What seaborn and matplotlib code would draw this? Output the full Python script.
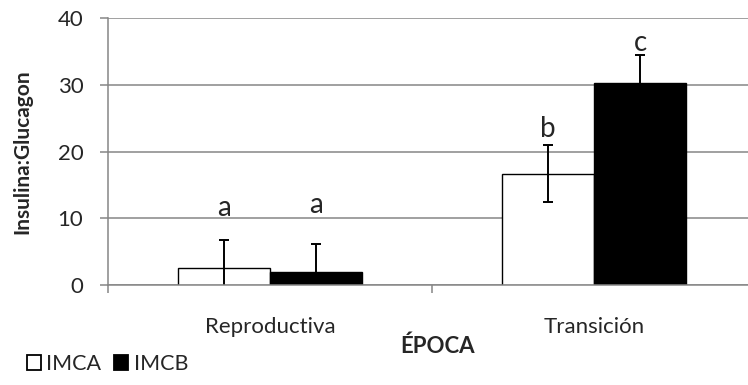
import numpy as np
import pandas as pd
import matplotlib
matplotlib.use('Agg')
import matplotlib.pyplot as plt
import seaborn as sns
from matplotlib.patches import Patch
from matplotlib.ticker import FixedLocator

# Data
epocas = ['Reproductiva', 'Transición']
grupos = ['IMCA', 'IMCB']
imca = [2.6, 16.7]
imcb = [2.0, 30.3]
imca_err = [4.2, 4.2]
imcb_err = [4.2, 4.2]
letras_imca = ['a', 'b']
letras_imcb = ['a', 'c']
letra_y_imca = [11.6, 23.4]
letra_y_imcb = [12.0, 36.3]

df = pd.DataFrame({
    'Epoca': epocas * 2,
    'Grupo': ['IMCA'] * 2 + ['IMCB'] * 2,
    'Valor': imca + imcb,
})

sns.set_style('white')
plt.rcParams['font.family'] = ['Lato', 'DejaVu Sans']

fig = plt.figure(figsize=(7.48, 3.85), dpi=100)
ax = fig.add_axes([108/748, 1 - 285/385, 648/748, 267/385])

grid_c = '#868686'
ax.set_axisbelow(True)
ax.yaxis.grid(True, color=grid_c, linewidth=1.1)

sns.barplot(data=df, x='Epoca', y='Valor', hue='Grupo', order=epocas, hue_order=grupos,
            palette={'IMCA': 'white', 'IMCB': 'black'}, width=0.568, edgecolor='black',
            linewidth=1, errorbar=None, legend=False, ax=ax)

# error bars and letters
w = 0.568 / 2
for vals, errs, letras, ly, off in [(imca, imca_err, letras_imca, letra_y_imca, -w / 2),
                                     (imcb, imcb_err, letras_imcb, letra_y_imcb, w / 2)]:
    xs = np.arange(len(epocas)) + off
    ax.errorbar(xs, vals, yerr=errs, fmt='none', ecolor='black', elinewidth=1.4,
                capsize=3.6, capthick=1.4)
    for x, t, y in zip(xs, letras, ly):
        ax.text(x, y, t, ha='center', va='center', fontsize=20)

ax.set_xlim(-0.5, 1.5)
ax.set_ylim(0, 40)
ax.set_yticks([0, 10, 20, 30, 40])
ax.tick_params(axis='y', labelsize=16, length=5.8, width=1.1, color=grid_c, direction='out', left=True, pad=12)
ax.tick_params(axis='x', which='major', length=0, labelsize=16, pad=23)
ax.xaxis.set_minor_locator(FixedLocator([-0.5, 0.5, 1.5]))
ax.tick_params(axis='x', which='minor', length=5.8, width=1.1, color=grid_c, direction='out', bottom=True)

for s in ['top', 'right']:
    ax.spines[s].set_visible(False)
for s in ['left', 'bottom']:
    ax.spines[s].set_color(grid_c)
    ax.spines[s].set_linewidth(1.1)

ax.set_xlabel('ÉPOCA', fontsize=16, fontweight='bold')
ax.xaxis.set_label_coords(0.508, -0.19)
ax.set_ylabel('Insulina:Glucagon', fontsize=15, fontweight='bold')
ax.yaxis.set_label_coords(-0.117, 0.5)

handles = [Patch(facecolor='white', edgecolor='black', linewidth=1.3, label='IMCA'),
           Patch(facecolor='black', edgecolor='black', linewidth=1.3, label='IMCB')]
fig.legend(handles=handles, loc='lower left', bbox_to_anchor=(0.01, -0.022), ncol=2,
           frameon=False, fontsize=15.5, handlelength=0.65, handleheight=0.65,
           handletextpad=0.25, columnspacing=0.6)

fig.savefig('out.png', dpi=100)
